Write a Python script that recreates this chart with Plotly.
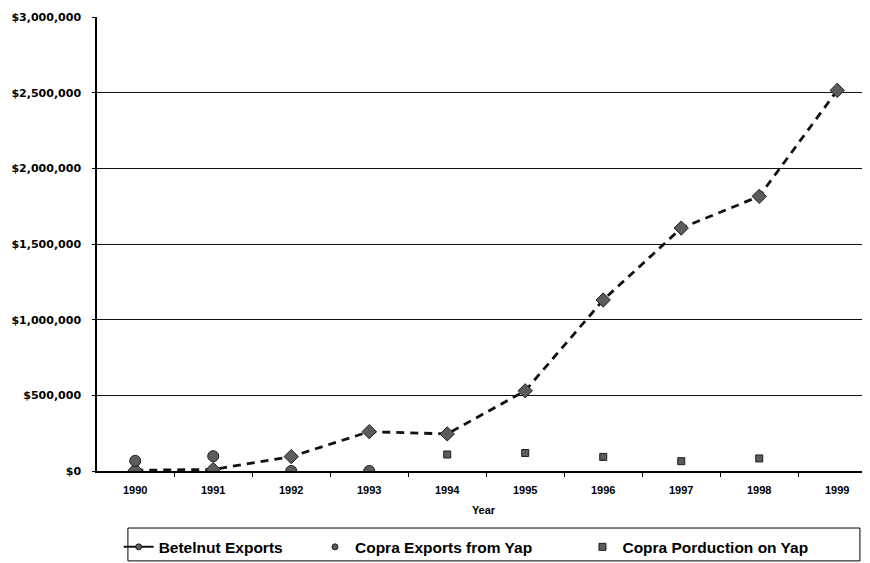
import plotly.graph_objects as go

years = ["1990", "1991", "1992", "1993", "1994", "1995", "1996", "1997", "1998", "1999"]
betelnut = [5000, 10000, 95000, 260000, 245000, 530000, 1130000, 1605000, 1815000, 2515000]
copra_years = ["1990", "1991", "1992", "1993"]
copra_exports = [67000, 98000, 0, 0]
prod_years = ["1994", "1995", "1996", "1997", "1998"]
copra_production = [109000, 119000, 93000, 65000, 83000]
legend_names = ["Betelnut Exports", "Copra Exports from Yap", "Copra Porduction on Yap"]

FONT = "Liberation Sans, Arial, sans-serif"
YFONT = "DejaVu Sans, Verdana, sans-serif"
MK = "#5c5c5c"
EDGE = "#1e1e1e"

fig = go.Figure()
# data traces
fig.add_trace(go.Scatter(
    x=years, y=betelnut, name=legend_names[0], mode="lines+markers", showlegend=False,
    line=dict(color="#111111", width=2.8, dash="8px,6px"),
    marker=dict(symbol="diamond", size=11, color=MK, line=dict(color=EDGE, width=1)),
))
fig.add_trace(go.Scatter(
    x=copra_years, y=copra_exports, name=legend_names[1], mode="markers", showlegend=False,
    marker=dict(symbol="circle", size=11, color=MK, line=dict(color=EDGE, width=1)),
))
fig.add_trace(go.Scatter(
    x=prod_years, y=copra_production, name=legend_names[2], mode="markers", showlegend=False,
    marker=dict(symbol="square", size=7, color=MK, line=dict(color=EDGE, width=1)),
))
# legend entries (as drawn in the original legend)
fig.add_trace(go.Scatter(
    x=[None], y=[None], name=legend_names[0], mode="lines+markers", legend="legend",
    line=dict(color="#111111", width=2),
    marker=dict(symbol="circle", size=6, color=MK, line=dict(color=EDGE, width=1)),
))
fig.add_trace(go.Scatter(
    x=[None], y=[None], name=legend_names[1], mode="markers", legend="legend2",
    marker=dict(symbol="circle", size=6, color=MK, line=dict(color=EDGE, width=1)),
))
fig.add_trace(go.Scatter(
    x=[None], y=[None], name=legend_names[2], mode="markers", legend="legend3",
    marker=dict(symbol="square", size=7, color=MK, line=dict(color=EDGE, width=1)),
))

LEG_FONT = dict(family=FONT, size=15.5, color="black", weight="bold")
LEG_Y = -0.168


def leg(x):
    return dict(orientation="h", x=x, xanchor="left", y=LEG_Y, yanchor="middle",
                font=LEG_FONT, bgcolor="rgba(0,0,0,0)", borderwidth=0)


# the page body has an 8px margin, so the figure is 8px smaller than the window
fig.update_layout(
    width=862, height=555,
    margin=dict(l=89, r=0, t=9, b=92, autoexpand=False),
    paper_bgcolor="white", plot_bgcolor="white",
    font=dict(family=FONT, size=11, color="black"),
    showlegend=True,
    legend=leg(0.028),
    legend2=leg(0.282),
    legend3=leg(0.628),
    shapes=[dict(type="rect", xref="paper", yref="paper",
                 x0=0.040, x1=0.987, y0=-0.198, y1=-0.1256,
                 line=dict(color="black", width=1), fillcolor="rgba(0,0,0,0)")],
)
fig.update_xaxes(
    type="category", categoryorder="array", categoryarray=years,
    range=[-0.49, 9.42],
    showline=True, linecolor="black", linewidth=1.5,
    ticks="outside", tickson="boundaries", ticklen=4, tickcolor="black",
    showgrid=False, ticklabelstandoff=8,
    tickfont=dict(family=FONT, size=11, weight="bold"),
    title=dict(text="Year", font=dict(family=FONT, size=11, weight="bold"), standoff=11),
)
fig.update_yaxes(
    range=[0, 3000000], dtick=500000, tickprefix="$", tickformat=",",
    showline=True, linecolor="black", linewidth=1.5,
    ticks="outside", ticklen=3, tickcolor="black", ticklabelstandoff=9,
    showgrid=True, gridcolor="#111111", gridwidth=1,
    zeroline=True, zerolinecolor="black", zerolinewidth=1.5,
    tickfont=dict(family=YFONT, size=11, weight="bold"),
)

fig.write_html("out.html")
